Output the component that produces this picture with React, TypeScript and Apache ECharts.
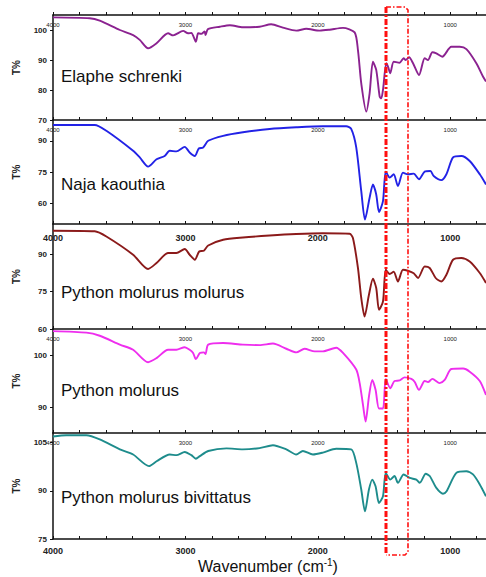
import React, { useEffect, useRef } from 'react';
import * as echarts from 'echarts';

// ---- data ----
const xTickValues = [4000, 3800, 3600, 3400, 3200, 3000, 2800, 2600, 2400, 2200, 2000, 1800, 1600, 1400, 1200, 1000, 800];
const xLabelValues = [4000, 3000, 2000, 1000];

const speciesNames = ['Elaphe schrenki', 'Naja kaouthia', 'Python molurus molurus', 'Python molurus', 'Python molurus bivittatus'];

const yLabels1 = [70, 80, 90, 100];
const yLabels2 = [60, 75, 90];
const yLabels3 = [60, 75, 90];
const yLabels4 = [90, 100];
const yLabels5 = [75, 90, 105];

const elapheSpectrum = [
  [4000, 104.2], [3723, 103.9], [3647, 103.1], [3495, 100], [3395, 98.3], [3345, 96.7], [3282, 93.9], [3218, 95.6],
  [3131, 98.9], [3093, 98.2], [3017, 99.7], [2980, 98.9], [2955, 99.0], [2921, 96.1], [2904, 98.9], [2880, 98.7],
  [2855, 99.5], [2848, 98.3], [2830, 100.3], [2740, 101.1], [2664, 101.6], [2566, 100.9], [2440, 101.1], [2352, 101.9],
  [2264, 100.8], [2163, 99.8], [2088, 100.4], [1986, 99.8], [1911, 100.1], [1810, 100.7], [1722, 99.2], [1697, 93.3],
  [1672, 82.2], [1634, 72.8], [1609, 78.9], [1584, 89.4], [1559, 86.7], [1533, 77.8], [1521, 77.2], [1508, 80],
  [1483, 88.9], [1470, 87.8], [1453, 85.6], [1427, 89.4], [1382, 89.1], [1352, 90.6], [1337, 90], [1311, 90.9],
  [1281, 88.9], [1236, 85], [1193, 90.6], [1168, 90], [1135, 92.6], [1105, 92.2], [1060, 91.1], [992, 94.4],
  [928, 94.4], [878, 93.6], [803, 88.9], [752, 84.4], [730, 82.8],
];

const najaSpectrum = [
  [4000, 97.6], [3685, 97.6], [3597, 94.8], [3395, 85.2], [3345, 82], [3282, 77.6], [3218, 81.1], [3157, 82.7],
  [3118, 85.2], [3068, 84.9], [3005, 87.1], [2968, 84.4], [2929, 82.7], [2899, 86.3], [2866, 86.8], [2828, 90],
  [2715, 92.4], [2566, 94.1], [2364, 95.7], [2163, 96.5], [1962, 97], [1785, 97], [1748, 95.7], [1710, 86.8],
  [1672, 65.8], [1644, 52.1], [1609, 62.6], [1584, 69], [1559, 64.2], [1538, 55.8], [1508, 61], [1487, 75.2],
  [1457, 72.3], [1427, 73.9], [1395, 68.2], [1357, 74.7], [1320, 73.9], [1276, 74.2], [1236, 71.5], [1193, 75.2],
  [1150, 75.5], [1125, 73.1], [1067, 71.1], [1029, 73.9], [979, 82], [916, 82.7], [853, 80.3], [777, 73.9], [730, 69],
];

const pmmSpectrum = [
  [4000, 99.3], [3685, 99.1], [3597, 97], [3395, 89.7], [3282, 84], [3218, 86.4], [3131, 90.4], [3068, 90.4],
  [3005, 92], [2968, 89.7], [2929, 87.7], [2896, 91], [2861, 91.3], [2828, 93.4], [2715, 95.7], [2566, 96.6],
  [2364, 97.4], [2163, 98], [1962, 98.3], [1760, 98.1], [1735, 96.4], [1697, 84.4], [1672, 72.4], [1647, 65.0],
  [1614, 73.7], [1584, 80.1], [1559, 76.4], [1538, 67.7], [1508, 71], [1487, 83.7], [1457, 82], [1427, 82.9],
  [1395, 79], [1357, 83.7], [1320, 83.3], [1276, 82.3], [1243, 80.4], [1193, 85], [1155, 84.4], [1110, 80.4],
  [1067, 79], [1029, 81.7], [979, 87.7], [916, 88.4], [853, 87], [777, 82.4], [730, 78.4],
];

const pmSpectrum = [
  [4000, 104.6], [3748, 104.3], [3647, 103.7], [3495, 102], [3395, 101], [3282, 98.6], [3218, 99.4], [3131, 101],
  [3068, 101], [3005, 101.5], [2968, 101], [2942, 100.4], [2921, 99.2], [2891, 100.4], [2861, 100.5], [2848, 100.2],
  [2828, 102], [2715, 102.3], [2566, 102], [2440, 101.9], [2339, 102.2], [2238, 101.2], [2163, 100.5], [2100, 101.2],
  [2024, 100.7], [1962, 100.7], [1861, 101.4], [1810, 100.4], [1710, 97.2], [1684, 94.6], [1659, 90.4], [1639, 87.2],
  [1614, 92], [1589, 95.2], [1564, 93.3], [1538, 89.7], [1508, 89.7], [1487, 95.4], [1453, 93.6], [1421, 95],
  [1382, 95.1], [1345, 95.7], [1294, 95.4], [1268, 94.8], [1236, 93.3], [1193, 95], [1168, 94.8], [1135, 95.4],
  [1080, 94.6], [1042, 95.2], [992, 97.3], [903, 97.4], [853, 96.8], [777, 95], [730, 92.3],
];

const pmbSpectrum = [
  [4000, 106.9], [3900, 107.3], [3748, 107.3], [3647, 106], [3495, 102.9], [3395, 101.3], [3275, 97.7], [3218, 99.2],
  [3118, 101.3], [3068, 101.1], [3005, 102.1], [2955, 101.1], [2921, 100], [2891, 100.8], [2828, 102.4], [2690, 103.2],
  [2566, 102.9], [2440, 103.3], [2339, 104.2], [2238, 102.9], [2163, 101.3], [2113, 102.4], [2037, 101.3], [1962, 101.9],
  [1861, 103.1], [1748, 102.9], [1710, 98.7], [1672, 90.4], [1644, 83.6], [1614, 90.4], [1589, 93.5], [1564, 91.4],
  [1538, 86.2], [1508, 88.3], [1487, 95.6], [1453, 93.5], [1421, 94.6], [1395, 92.5], [1352, 95.1], [1306, 94],
  [1256, 93.5], [1230, 92.5], [1185, 95.3], [1155, 94.6], [1105, 90.9], [1055, 89.1], [1029, 89.8], [954, 95.6],
  [878, 96.1], [828, 95.1], [777, 92], [730, 88.3],
];

const FONT = "'Liberation Sans', Arial, sans-serif";
const plain = (v: number) => String(v);

export default function App() {
  const ref = useRef<HTMLDivElement>(null);

  useEffect(() => {
    if (!ref.current) return;
    const chart = echarts.init(ref.current, undefined, { renderer: 'svg' });

    const panels = [
      { data: elapheSpectrum, color: '#8B2290', min: 70, max: 105, labels: yLabels1, top: 15, height: 105, nameY: 76, topFont: 6, topBold: false },
      { data: najaSpectrum, color: '#2222E6', min: 50, max: 100, labels: yLabels2, top: 120, height: 104, nameY: 184, topFont: 6, topBold: false },
      { data: pmmSpectrum, color: '#8B1A1A', min: 60, max: 102, labels: yLabels3, top: 224, height: 105, nameY: 292, topFont: 9, topBold: true },
      { data: pmSpectrum, color: '#EE2EEE', min: 85, max: 105, labels: yLabels4, top: 329, height: 104, nameY: 390, topFont: 6, topBold: false },
      { data: pmbSpectrum, color: '#1E8C8C', min: 75, max: 108, labels: yLabels5, top: 433, height: 106, nameY: 497, topFont: 6, topBold: false },
    ];

    const axisLine = { show: true, lineStyle: { color: '#111', width: 1.5 } };

    const grid = panels.map((p) => ({ left: 53, width: 433, top: p.top, height: p.height }));
    const xAxis: any[] = panels.map((p, i) => ({
      type: 'value', gridIndex: i, position: 'top', min: 730, max: 4000, inverse: true,
      axisLine,
      axisTick: { show: true, inside: false, length: 3, customValues: xTickValues, lineStyle: { color: '#111', width: 1 } },
      axisLabel: {
        show: true, inside: true, margin: p.topBold ? 9 : 7, customValues: xLabelValues, formatter: plain,
        fontSize: p.topFont, fontWeight: p.topBold ? 'bold' : 'normal', color: '#222', fontFamily: FONT,
      },
      splitLine: { show: false },
    }));
    xAxis.push({
      type: 'value', gridIndex: 4, position: 'bottom', min: 730, max: 4000, inverse: true,
      axisLine,
      axisTick: { show: true, inside: true, length: 3, customValues: xTickValues, lineStyle: { color: '#111', width: 1 } },
      axisLabel: { show: true, margin: 7, customValues: xLabelValues, formatter: plain, fontSize: 9, fontWeight: 'bold', color: '#222', fontFamily: FONT },
      splitLine: { show: false },
    });
    const yAxis = panels.map((p, i) => ({
      type: 'value', gridIndex: i, min: p.min, max: p.max,
      axisLine,
      axisTick: { show: true, inside: false, length: 3, customValues: p.labels, lineStyle: { color: '#111', width: 1 } },
      axisLabel: { show: true, margin: 6, customValues: p.labels, formatter: plain, fontSize: 8, fontWeight: 'bold', color: '#222', fontFamily: FONT },
      splitLine: { show: false },
    }));
    const series = panels.map((p, i) => ({
      type: 'line', xAxisIndex: i, yAxisIndex: i, data: p.data, symbol: 'none', smooth: 0.25,
      lineStyle: { color: p.color, width: 1.9 }, clip: true,
    }));

    const graphic: any[] = [];
    panels.forEach((p, i) => {
      graphic.push({
        type: 'text', x: 61, y: p.nameY, z: 100,
        style: { text: speciesNames[i], fontSize: 17, fontFamily: FONT, fill: '#111', verticalAlign: 'middle', align: 'left' },
      });
      graphic.push({
        type: 'text', x: 16, y: p.top + p.height / 2, rotation: Math.PI / 2, z: 100,
        style: { text: 'T%', fontSize: 10, fontWeight: 'bold', fontFamily: FONT, fill: '#222', verticalAlign: 'middle', align: 'center' },
      });
    });
    graphic.push({
      type: 'text', x: 268, y: 566, z: 100,
      style: {
        text: '{a|Wavenumber (cm}{s|-1}{a|)}', align: 'center', verticalAlign: 'middle',
        rich: {
          a: { fontSize: 16, fontFamily: FONT, fill: '#111', lineHeight: 18 },
          s: { fontSize: 10, fontFamily: FONT, fill: '#111', verticalAlign: 'top', lineHeight: 18 },
        },
      },
    });
    // red dashed highlight box
    graphic.push({
      type: 'line', z: 110,
      shape: { x1: 386, y1: 7, x2: 386, y2: 555 },
      style: { stroke: '#FF1010', lineWidth: 3, lineDash: [6, 2, 2, 2] },
    });
    graphic.push({
      type: 'polyline', z: 110,
      shape: { points: [[386, 7], [405, 7], [408, 10], [408, 552], [405, 555], [386, 555]] },
      style: { stroke: '#FF1010', lineWidth: 1.6, lineDash: [5, 2, 1.5, 2], fill: 'none' },
    });

    chart.setOption({
      animation: false,
      backgroundColor: '#fff',
      grid, xAxis, yAxis, series, graphic,
    });
    return () => chart.dispose();
  }, []);

  return <div ref={ref} style={{ position: 'fixed', left: 0, top: 0, width: 486, height: 577 }} />;
}
